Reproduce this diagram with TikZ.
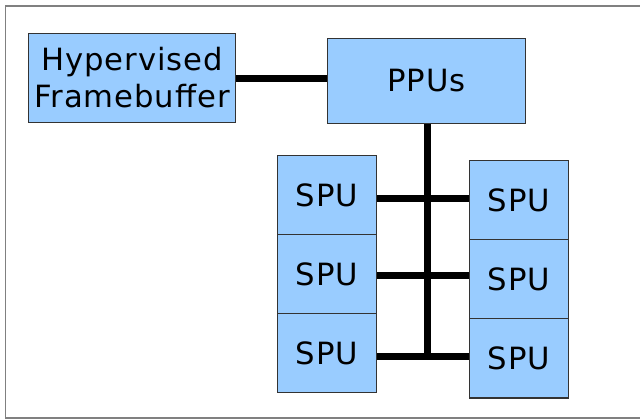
\documentclass[tikz,border=0pt]{standalone}
\usepackage{fontspec}
\setmainfont[LetterSpace=3]{DejaVu Sans}
\definecolor{boxfill}{HTML}{99CCFF}
\definecolor{boxdraw}{HTML}{333333}
\definecolor{framegray}{HTML}{808080}
\begin{document}
\begin{tikzpicture}[x=0.75pt,y=-0.75pt,
  box/.style={draw=boxdraw,fill=boxfill,line width=0.8pt,inner sep=0pt,
    font=\fontsize{23}{27.5}\selectfont,align=center},
  spu/.style={box,minimum width=74.55pt,minimum height=59.3pt},
  bus/.style={line width=5.25pt,black}]
\useasboundingbox (0,0) rectangle (640,420);
\draw[framegray,line width=1.3pt] (645,6) -- (5.5,6) -- (5.5,418) -- (645,418);
% junction coordinates
\coordinate (c0) at (300,79);
\coordinate (j1) at (427.3,198.3);
\coordinate (j2) at (427.3,275.7);
\coordinate (j3) at (427.3,356.7);
\coordinate (jend) at (427.3,360.2);
% nodes
\node[box,minimum width=155.4pt,minimum height=66.75pt] (hyp) at (132.1,77.8) {Hypervised\\Framebuffer};
\node[box,minimum width=148.8pt,minimum height=63.75pt] (ppu) at (426.5,80.8) {PPUs};
\node[spu] (l1) at (327,195) {SPU};
\node[spu] (l2) at (327,274.2) {SPU};
\node[spu] (l3) at (327,353.2) {SPU};
\node[spu] (r1) at (519,200.2) {SPU};
\node[spu] (r2) at (519,279.4) {SPU};
\node[spu] (r3) at (519,358.5) {SPU};
% connectors
\draw[bus] (hyp.east |- c0) -- (ppu.west |- c0);
\draw[bus] (ppu.south -| jend) -- (jend);
\draw[bus] (l1.east |- j1) -- (r1.west |- j1);
\draw[bus] (l2.east |- j2) -- (r2.west |- j2);
\draw[bus] (l3.east |- j3) -- (r3.west |- j3);
\end{tikzpicture}
\end{document}
